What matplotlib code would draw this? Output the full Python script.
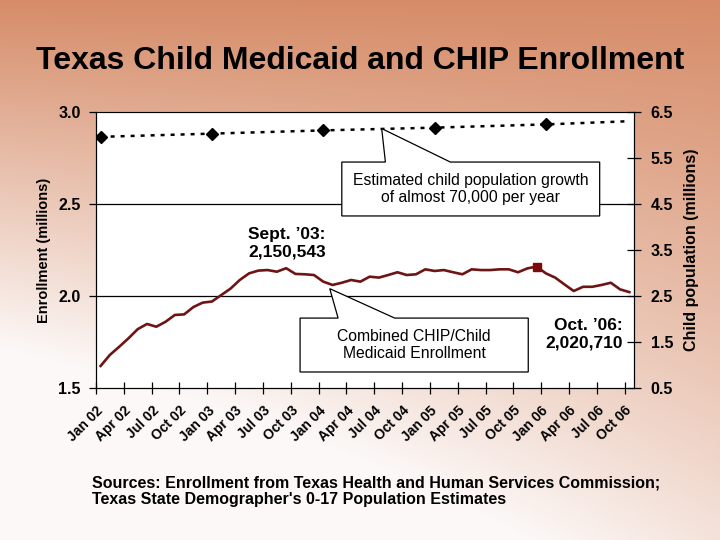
import matplotlib.pyplot as plt
import numpy as np
from matplotlib.patches import Polygon

plt.rcParams['font.family'] = ['Liberation Sans', 'DejaVu Sans']

# monthly enrollment, Jan 02 .. Oct 06 (millions)
enrollment = [1.62, 1.68, 1.724, 1.77, 1.82, 1.848, 1.833, 1.86, 1.897, 1.90,
              1.94, 1.964, 1.97, 2.005, 2.04, 2.087, 2.123, 2.138, 2.141, 2.132,
              2.151, 2.12, 2.118, 2.114, 2.078, 2.06, 2.072, 2.087, 2.078, 2.105,
              2.10, 2.114, 2.129, 2.114, 2.118, 2.145, 2.136, 2.141, 2.129, 2.118,
              2.145, 2.141, 2.141, 2.145, 2.145, 2.129, 2.15, 2.16, 2.123, 2.10,
              2.063, 2.027, 2.05, 2.05, 2.06, 2.072, 2.036, 2.021]
highlight_month = 47

# child population estimates (millions), month index from Jan 02
pop_months = [0, 12, 24, 36, 48, 57]
population = [5.96, 6.03, 6.10, 6.16, 6.23, 6.30]

tick_labels = ['Jan 02', 'Apr 02', 'Jul 02', 'Oct 02', 'Jan 03', 'Apr 03', 'Jul 03',
               'Oct 03', 'Jan 04', 'Apr 04', 'Jul 04', 'Oct 04', 'Jan 05', 'Apr 05',
               'Jul 05', 'Oct 05', 'Jan 06', 'Apr 06', 'Jul 06', 'Oct 06']
left_ticks = [1.5, 2.0, 2.5, 3.0]
right_ticks = [0.5, 1.5, 2.5, 3.5, 4.5, 5.5, 6.5]

fig = plt.figure(figsize=(7.2, 5.4), dpi=100)

# background gradient
bg = fig.add_axes([0, 0, 1, 1], zorder=-5)
yy, xx = np.mgrid[0:1:270j, 0:1:360j]
f = np.clip(yy * (0.8 + 0.75 * (1 - xx)), 0, 1)[..., None]
top = np.array([214, 140, 104]) / 255
bot = np.array([252, 248, 247]) / 255
bg.imshow(top + (bot - top) * f, aspect='auto', extent=[0, 1, 0, 1])
bg.axis('off')

ax = fig.add_axes([96 / 720, 1 - 388 / 540, 538 / 720, 276 / 540])
ax.set_facecolor('white')
n = len(enrollment)
x = np.arange(n)
ax.plot(x, enrollment, color='#6E1414', lw=1.9, zorder=3)
ax.plot([highlight_month], [enrollment[highlight_month]], 's', color='#7A0A0A',
        ms=6, zorder=4)
ax.set_xlim(-0.5, n - 0.5)
ax.set_ylim(1.5, 3.0)
ax.set_yticks(left_ticks)
ax.set_yticklabels([f'{v:.1f}' for v in left_ticks])
for v in left_ticks[1:-1]:
    ax.axhline(v, color='black', lw=0.9, zorder=1)
xt = np.arange(-0.5, n - 0.5, 3)
ax.set_xticks(xt)
ax.set_xticklabels(tick_labels[:len(xt)], rotation=45,
                   ha='right', va='top', rotation_mode='anchor')
ax.tick_params(axis='x', direction='inout', length=8, width=0.9, pad=7,
               labelsize=10)
ax.tick_params(axis='y', direction='out', length=5, width=0.9, pad=6,
               labelsize=11.5)
for lab in ax.get_xticklabels() + ax.get_yticklabels():
    lab.set_fontweight('bold')
for s in ['left', 'bottom', 'right']:
    ax.spines[s].set_color('black')
ax.spines['top'].set_color('#8c8c8c')
ax.set_ylabel('Enrollment (millions)', fontsize=10.5, fontweight='bold', labelpad=5)

ax2 = ax.twinx()
ax2.plot(pop_months, population, color='black', lw=1.8,
         linestyle=(0, (1.6, 2.4)), marker='D', ms=6, markevery=[0, 1, 2, 3, 4])
ax2.set_ylim(0.5, 6.5)
ax2.set_yticks(right_ticks)
ax2.set_yticklabels([f'{v:.1f}' for v in right_ticks])
ax2.tick_params(axis='y', direction='inout', length=10, width=0.9, pad=7,
                labelsize=11.5)
for lab in ax2.get_yticklabels():
    lab.set_fontweight('bold')
ax2.set_ylabel('Child population (millions)', fontsize=11.5, fontweight='bold',
               rotation=90, labelpad=8)


def callout(a, x0, x1, y0, y1, b0, b1, tip):
    pts = [(x0, y1), (b0, y1), tip, (b1, y1), (x1, y1), (x1, y0), (x0, y0)]
    a.add_patch(Polygon(pts, closed=True, facecolor='white', edgecolor='black',
                        lw=0.9, zorder=5, transform=ax.transData, clip_on=False))


callout(ax2, 26.0, 53.8, 2.435, 2.728, 30.7, 37.7, (30.3, 2.91))
ax2.text(39.9, 2.582, 'Estimated child population growth\nof almost 70,000 per year',
         transform=ax.transData, ha='center', va='center', fontsize=11.3, zorder=6)
callout(ax2, 21.5, 46.1, 1.587, 1.880, 25.6, 31.7, (24.7, 2.04))
ax2.text(33.8, 1.735, 'Combined CHIP/Child\nMedicaid Enrollment',
         transform=ax.transData, ha='center', va='center', fontsize=11.3, zorder=6)

ax.text(15.9, 2.288, 'Sept. \u201903:\n2,150,543', ha='left', va='center',
        fontsize=12.5, fontweight='bold', multialignment='left', zorder=6)
ax.text(56.3, 1.793, 'Oct. \u201906:\n2,020,710', ha='right', va='center',
        fontsize=12.5, fontweight='bold', multialignment='right', zorder=6)

fig.text(0.5, 1 - 61 / 540, 'Texas Child Medicaid and CHIP Enrollment',
         ha='center', va='center', fontsize=23, fontweight='bold')
fig.text(92 / 720, 1 - 491 / 540,
         "Sources: Enrollment from Texas Health and Human Services Commission;\n"
         "Texas State Demographer's 0-17 Population Estimates",
         ha='left', va='center', fontsize=11.5, fontweight='bold', linespacing=1.1)

fig.savefig('out.png', dpi=100)
